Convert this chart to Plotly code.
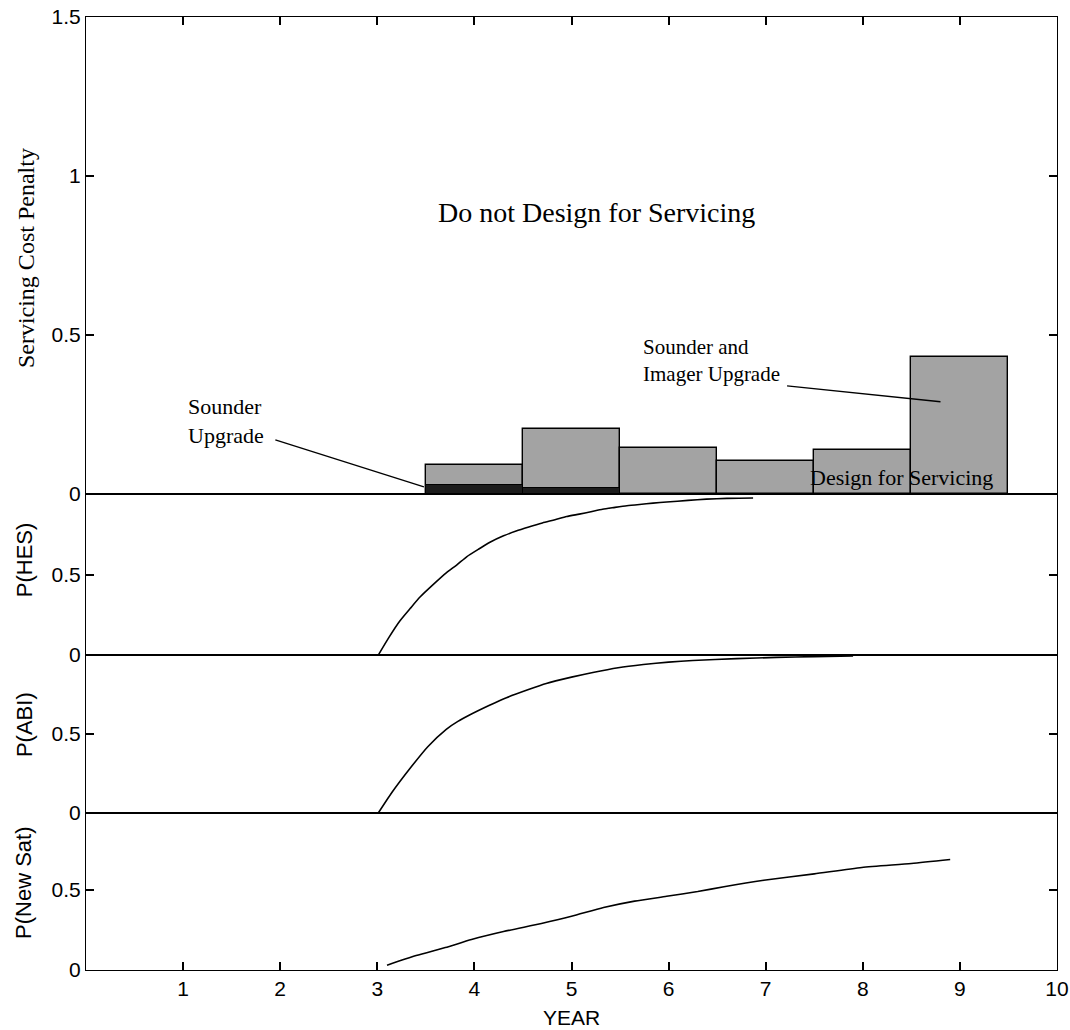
import plotly.graph_objects as go

# ---- data ----
bar_years = [4, 5, 6, 7, 8, 9]                      # bar centres (each spans +/-0.5 yr)
penalty_no_design = [0.09, 0.205, 0.145, 0.103, 0.138, 0.432]
sounder_years = [4, 5]
penalty_design = [0.027, 0.018]

hes_t = [3.01, 3.12, 3.23, 3.34, 3.44, 3.58, 3.71, 3.82, 3.92, 4.05, 4.16, 4.30, 4.43,
         4.56, 4.70, 4.83, 4.95, 5.08, 5.20, 5.32, 5.43, 5.57, 5.70, 5.84, 5.98, 6.20,
         6.39, 6.60, 6.87]
hes_p = [0.0, 0.11, 0.21, 0.29, 0.36, 0.44, 0.51, 0.56, 0.61, 0.66, 0.70, 0.74, 0.77,
         0.795, 0.82, 0.84, 0.86, 0.875, 0.89, 0.905, 0.915, 0.927, 0.935, 0.943, 0.95,
         0.96, 0.968, 0.973, 0.975]

abi_t = [3.01, 3.15, 3.34, 3.52, 3.71, 3.83, 3.95, 4.15, 4.33, 4.55, 4.74, 5.00, 5.22,
         5.48, 5.74, 6.00, 6.25, 6.70, 7.11, 7.50, 7.90]
abi_p = [0.0, 0.13, 0.285, 0.42, 0.53, 0.58, 0.62, 0.68, 0.73, 0.78, 0.82, 0.86, 0.89,
         0.92, 0.94, 0.955, 0.965, 0.977, 0.985, 0.99, 0.994]

newsat_t = [3.10, 3.40, 3.70, 3.97, 4.30, 4.69, 5.00, 5.33, 5.65, 5.98, 6.30, 6.57,
            6.98, 7.50, 7.99, 8.50, 8.90]
newsat_p = [0.03, 0.09, 0.14, 0.19, 0.24, 0.29, 0.335, 0.39, 0.43, 0.46, 0.49, 0.52,
            0.56, 0.60, 0.64, 0.665, 0.69]

x_ticks = [1, 2, 3, 4, 5, 6, 7, 8, 9, 10]
top_y_ticks = [0, 0.5, 1, 1.5]
top_y_ticklabels = ["0", "0.5", "1", "1.5"]
p_y_ticks = [0, 0.5]
p_y_ticklabels = ["0", "0.5"]

# leader lines (annotation pointers)
sounder_leader_x = [1.95, 3.48]
sounder_leader_y = [0.17, 0.022]
imager_leader_x = [7.22, 8.80]
imager_leader_y = [0.34, 0.29]

SERIF = "Liberation Serif, Times New Roman, serif"
SANS = "Liberation Sans, Arial, sans-serif"

fig = go.Figure()

fig.add_trace(go.Bar(x=bar_years, y=penalty_no_design, width=1.0,
                     marker=dict(color="#a3a3a3", line=dict(color="black", width=1.4)),
                     xaxis="x", yaxis="y", showlegend=False))
fig.add_trace(go.Bar(x=sounder_years, y=penalty_design, width=1.0,
                     marker=dict(color="#1c1c1c", line=dict(color="black", width=1)),
                     xaxis="x", yaxis="y", showlegend=False))

fig.add_trace(go.Scatter(x=sounder_leader_x, y=sounder_leader_y, mode="lines",
                         line=dict(color="black", width=1.3), xaxis="x", yaxis="y",
                         showlegend=False))
fig.add_trace(go.Scatter(x=imager_leader_x, y=imager_leader_y, mode="lines",
                         line=dict(color="black", width=1.3), xaxis="x", yaxis="y",
                         showlegend=False))

fig.add_trace(go.Scatter(x=hes_t, y=hes_p, mode="lines",
                         line=dict(color="black", width=1.6, shape="spline", smoothing=0.6),
                         xaxis="x2", yaxis="y2", showlegend=False))
fig.add_trace(go.Scatter(x=abi_t, y=abi_p, mode="lines",
                         line=dict(color="black", width=1.6, shape="spline", smoothing=0.6),
                         xaxis="x3", yaxis="y3", showlegend=False))
fig.add_trace(go.Scatter(x=newsat_t, y=newsat_p, mode="lines",
                         line=dict(color="black", width=1.6, shape="spline", smoothing=0.6),
                         xaxis="x4", yaxis="y4", showlegend=False))

axis_common = dict(showline=True, linecolor="black", linewidth=1.2, showgrid=False,
                   zeroline=False, range=[0, 10], automargin=False)
yaxis_common = dict(showline=True, linecolor="black", linewidth=1.2, showgrid=False,
                    zeroline=False, ticks="inside", ticklen=8, tickwidth=1.5,
                    tickcolor="black", mirror="ticks", automargin=False,
                    tickfont=dict(family=SANS, size=21, color="black"))

doms = {"y": [0.4995, 1.0], "y2": [0.3305, 0.4995], "y3": [0.1647, 0.3305], "y4": [0.0, 0.1647]}

fig.update_layout(
    width=1070, height=1030,
    margin=dict(l=86, r=13, t=17, b=60, autoexpand=False),
    paper_bgcolor="white", plot_bgcolor="white",
    barmode="overlay", bargap=0,
    xaxis=dict(**axis_common, anchor="y", side="top", mirror=True, ticks="inside",
               ticklen=8, tickwidth=1.5, tickcolor="black",
               tickvals=list(range(0, 11)), showticklabels=False),
    xaxis2=dict(**axis_common, anchor="y2", mirror=True, ticks="", showticklabels=False,
                matches="x"),
    xaxis3=dict(**axis_common, anchor="y3", mirror=True, ticks="", showticklabels=False,
                matches="x"),
    xaxis4=dict(**axis_common, anchor="y4", mirror=True, ticks="inside", ticklen=8,
                tickwidth=1.5, tickcolor="black", tickvals=x_ticks,
                ticktext=[str(v) for v in x_ticks], matches="x",
                tickfont=dict(family=SANS, size=21, color="black")),
    yaxis=dict(**yaxis_common, anchor="x", domain=doms["y"], range=[0, 1.5],
               tickvals=top_y_ticks, ticktext=top_y_ticklabels),
    yaxis2=dict(**yaxis_common, anchor="x2", domain=doms["y2"], range=[0, 1.0],
                tickvals=p_y_ticks, ticktext=p_y_ticklabels),
    yaxis3=dict(**yaxis_common, anchor="x3", domain=doms["y3"], range=[0, 1.0],
                tickvals=p_y_ticks, ticktext=p_y_ticklabels),
    yaxis4=dict(**yaxis_common, anchor="x4", domain=doms["y4"], range=[0, 0.98],
                tickvals=p_y_ticks, ticktext=p_y_ticklabels),
)

ann = []
# y-axis titles
ann.append(dict(text="Servicing Cost Penalty", xref="paper", yref="paper", x=0, y=0.747,
                xshift=-60, xanchor="center", yanchor="middle", textangle=-90,
                showarrow=False, font=dict(family=SERIF, size=24, color="black")))
for label, yy in [("P(HES)", 0.430), ("P(ABI)", 0.257), ("P(New Sat)", 0.0913)]:
    ann.append(dict(text=label, xref="paper", yref="paper", x=0, y=yy, xshift=-62,
                    xanchor="center", yanchor="middle", textangle=-90, showarrow=False,
                    font=dict(family=SANS, size=22, color="black")))
ann.append(dict(text="YEAR", xref="paper", yref="paper", x=0.5, y=0, yshift=-47,
                xanchor="center", yanchor="middle",
                showarrow=False, font=dict(family=SANS, size=21, color="black")))
# chart text
ann.append(dict(text="Do not Design for Servicing", xref="x", yref="y", x=5.26, y=0.884,
                xanchor="center", yanchor="middle",
                showarrow=False, font=dict(family=SERIF, size=28, color="black")))
ann.append(dict(text="Sounder<br>Upgrade", xref="x", yref="y", x=1.03, y=0.23,
                xanchor="left", yanchor="middle", align="left", showarrow=False,
                font=dict(family=SERIF, size=22, color="black")))
ann.append(dict(text="Sounder and<br>Imager Upgrade", xref="x", yref="y", x=5.72, y=0.42,
                xanchor="left", yanchor="middle", align="left", showarrow=False,
                font=dict(family=SERIF, size=21, color="black")))
ann.append(dict(text="Design for Servicing", xref="x", yref="y", x=7.44, y=0.053,
                xanchor="left", yanchor="middle", showarrow=False,
                font=dict(family=SERIF, size=22, color="black")))
fig.update_layout(annotations=ann)

fig.write_html("out.html")
